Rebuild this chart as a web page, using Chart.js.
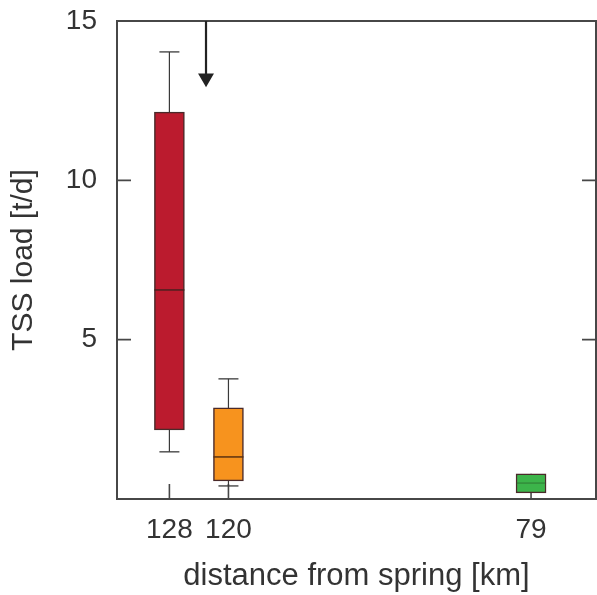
<!DOCTYPE html>
<html>
<head>
<meta charset="utf-8">
<script src="https://cdn.jsdelivr.net/npm/chart.js@4.4.1/dist/chart.umd.min.js"></script>
<style>
html,body{margin:0;padding:0;background:#fff;}
#wrap{width:597px;height:595px;}
</style>
</head>
<body>
<div id="wrap"><canvas id="c" width="597" height="595"></canvas></div>
<script>
// ---- data ----
const distances   = [128, 120, 79];          // km from spring (x categories)
const whiskerLow  = [1.48, 0.41, 0.19];
const quartile1   = [2.17, 0.57, 0.19];
const medians     = [6.56, 1.32, 0.50];
const quartile3   = [12.14, 2.86, 0.79];
const whiskerHigh = [14.03, 3.77, 0.79];
const boxColors   = ['#bb1b2e', '#f7931e', '#3cb44a'];
const medianColors = ['#4a2020', '#5a3010', 'rgba(40,90,40,0.45)'];
const yTickValues = [5, 10, 15];
const xTickValues = [128, 120, 79];
const arrowX      = [123.04, 123.04];
const arrowY      = [15, 13.21];

const FONT = "'Liberation Sans', Arial, Helvetica, sans-serif";
const TEXT = '#333333';
const LINE = '#3a3a3a';

const datasets = [];

// boxes (floating bars q1..q3)
datasets.push({
  type: 'bar',
  data: distances.map((d, i) => ({x: d, y: [quartile1[i], quartile3[i]]})),
  backgroundColor: boxColors,
  borderColor: '#4a2a2a',
  borderWidth: 1.5,
  borderSkipped: false,
  barThickness: 30,
  order: 2
});

// whisker stems
distances.forEach((d, i) => {
  datasets.push({
    type: 'line',
    data: [{x: d, y: whiskerLow[i]}, {x: d, y: whiskerHigh[i]}],
    borderColor: LINE,
    borderWidth: 1.2,
    pointRadius: 0,
    order: 3
  });
});

// whisker caps
const capPoints = [];
distances.forEach((d, i) => {
  if (whiskerLow[i] < quartile1[i]) capPoints.push({x: d, y: whiskerLow[i]});
  if (whiskerHigh[i] > quartile3[i]) capPoints.push({x: d, y: whiskerHigh[i]});
});
datasets.push({
  type: 'line',
  data: capPoints,
  showLine: false,
  pointStyle: 'line',
  pointRadius: 10,
  pointBorderWidth: 1.3,
  pointBorderColor: LINE,
  order: 1
});

// medians
datasets.push({
  type: 'line',
  data: distances.map((d, i) => ({x: d, y: medians[i]})),
  showLine: false,
  pointStyle: 'line',
  pointRadius: 15,
  pointBorderWidth: 1.5,
  pointBorderColor: medianColors,
  order: 1
});

// arrow
datasets.push({
  type: 'line',
  data: arrowX.map((x, i) => ({x: x, y: arrowY[i]})),
  borderColor: '#222',
  borderWidth: 2.2,
  pointRadius: [0, 7],
  pointStyle: 'triangle',
  pointRotation: 180,
  pointBackgroundColor: '#222',
  pointBorderColor: '#222',
  clip: false,
  order: 0
});

const framePlugin = {
  id: 'frame',
  beforeDatasetsDraw(chart) {
    const {ctx, chartArea: {left, right, top, bottom}, scales: {x, y}} = chart;
    ctx.save();
    ctx.strokeStyle = '#474747';
    ctx.lineWidth = 2;
    ctx.strokeRect(left, top, right - left, bottom - top);
    ctx.lineWidth = 1.6;
    ctx.beginPath();
    yTickValues.forEach(v => {
      if (v >= 15) return;
      const py = y.getPixelForValue(v);
      ctx.moveTo(left, py); ctx.lineTo(left + 14, py);
      ctx.moveTo(right, py); ctx.lineTo(right - 14, py);
    });
    xTickValues.forEach(v => {
      const px = x.getPixelForValue(v);
      ctx.moveTo(px, bottom); ctx.lineTo(px, bottom - 15);
    });
    ctx.stroke();
    ctx.restore();
  }
};

function zeroPad(s) { s.paddingTop = 0; s.paddingBottom = 0; s.paddingLeft = 0; s.paddingRight = 0; }

new Chart(document.getElementById('c'), {
  type: 'bar',
  data: {datasets},
  options: {
    responsive: false,
    devicePixelRatio: 1,
    animation: false,
    events: [],
    layout: {autoPadding: false, padding: {top: 21, right: 1, left: 0, bottom: 0}},
    plugins: {legend: {display: false}, tooltip: {enabled: false}},
    scales: {
      x: {
        type: 'linear',
        reverse: true,
        offset: false,
        min: 70.2,
        max: 135.1,
        afterFit(s) { s.height = 96; zeroPad(s); },
        afterBuildTicks(s) { s.ticks = xTickValues.map(v => ({value: v})); },
        grid: {display: false, drawTicks: false, offset: false},
        border: {display: false},
        ticks: {
          autoSkip: false, maxRotation: 0, padding: 14,
          font: {family: FONT, size: 28}, color: TEXT,
          callback: v => String(v)
        },
        title: {
          display: true, text: 'distance from spring [km]',
          font: {family: FONT, size: 31}, color: TEXT,
          padding: {top: 0, bottom: 0}
        }
      },
      y: {
        type: 'linear',
        min: 0,
        max: 15,
        afterFit(s) { s.width = 117; zeroPad(s); },
        afterBuildTicks(s) { s.ticks = yTickValues.map(v => ({value: v})); },
        grid: {display: false, drawTicks: false},
        border: {display: false},
        ticks: {
          padding: 20,
          font: {family: FONT, size: 28}, color: TEXT,
          callback: v => String(v)
        },
        title: {
          display: true, text: 'TSS load [t/d]',
          font: {family: FONT, size: 30}, color: TEXT,
          padding: {top: 6, bottom: 0}
        }
      }
    }
  },
  plugins: [framePlugin]
});
</script>
</body>
</html>
